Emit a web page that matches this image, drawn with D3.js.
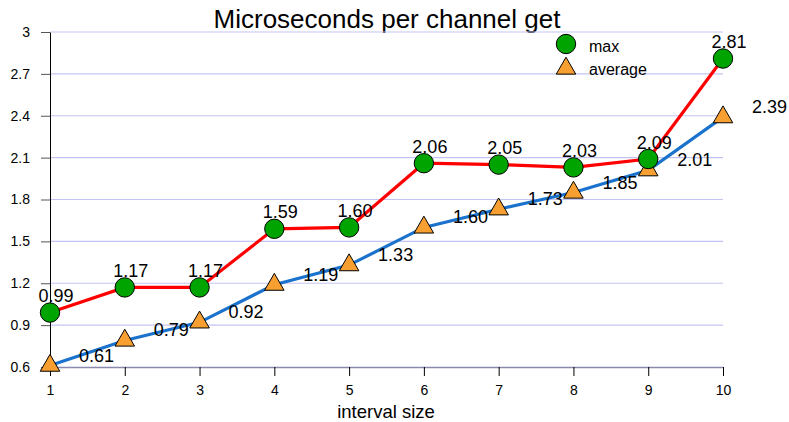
<!DOCTYPE html>
<html>
<head>
<meta charset="utf-8">
<script src="https://cdn.jsdelivr.net/npm/d3@7"></script>
<style>
  html, body { margin: 0; padding: 0; background: #fff; }
  svg { display: block; font-family: "Liberation Sans", Arial, sans-serif; }
</style>
</head>
<body>
<svg id="chart" width="789" height="422"></svg>
<script>
// Interval sizes along the x axis
const intervals = [1, 2, 3, 4, 5, 6, 7, 8, 9, 10];
// Microseconds per channel get
const maxValues = [0.99, 1.17, 1.17, 1.59, 1.60, 2.06, 2.05, 2.03, 2.09, 2.81];
const avgValues = [0.61, 0.79, 0.92, 1.19, 1.33, 1.60, 1.73, 1.85, 2.01, 2.39];
const yTicks = [0.6, 0.9, 1.2, 1.5, 1.8, 2.1, 2.4, 2.7, 3];
const seriesNames = ["max", "average"];

const FONT = "Liberation Sans, Arial, sans-serif";
const svg = d3.select("#chart");
const plotLeft = 50, plotRight = 723, plotTop = 32, plotBottom = 367;

const x = d3.scaleLinear().domain([1, 10]).range([plotLeft, plotRight]);
const y = d3.scaleLinear().domain([0.6, 3]).range([plotBottom, plotTop]);

// Title
svg.append("text")
  .attr("x", 387).attr("y", 28)
  .attr("text-anchor", "middle")
  .attr("font-size", 26)
  .text("Microseconds per channel get");

// Horizontal gridlines
svg.append("g").selectAll("line")
  .data(yTicks.slice(1))
  .join("line")
  .attr("x1", plotLeft).attr("x2", plotRight)
  .attr("y1", d => y(d)).attr("y2", d => y(d))
  .attr("stroke", "#c4c4f4").attr("stroke-width", 1.2);

// Y axis
const yAxis = svg.append("g")
  .attr("transform", `translate(${plotLeft},0)`)
  .call(d3.axisLeft(y).tickValues(yTicks).tickFormat(d3.format("")).tickSize(9).tickSizeOuter(0));
yAxis.select(".domain").attr("stroke", "#000");
yAxis.selectAll(".tick line").attr("stroke", "#555");
yAxis.selectAll(".tick text").attr("font-size", 14).attr("font-family", FONT).attr("x", -20).attr("fill", "#000");

// X axis
const xAxis = svg.append("g")
  .attr("transform", `translate(0,${plotBottom})`)
  .call(d3.axisBottom(x).tickValues(intervals).tickFormat(d3.format("d")).tickSize(9).tickSizeOuter(0));
xAxis.select(".domain").attr("stroke", "#8a8ab0").attr("stroke-width", 1.5);
xAxis.selectAll(".tick line").attr("stroke", "#000");
xAxis.selectAll(".tick text").attr("font-size", 14).attr("font-family", FONT).attr("y", 18).attr("fill", "#000");

// X axis title
svg.append("text")
  .attr("x", 386).attr("y", 418)
  .attr("text-anchor", "middle")
  .attr("font-size", 18.5)
  .text("interval size");

const line = vals => d3.line()
  .x((d, i) => x(intervals[i]))
  .y(d => y(d))(vals);

svg.append("path").attr("d", line(avgValues))
  .attr("fill", "none").attr("stroke", "#1a72cc").attr("stroke-width", 3.2);
svg.append("path").attr("d", line(maxValues))
  .attr("fill", "none").attr("stroke", "#ff0000").attr("stroke-width", 3.2);

// Value labels: average to the right, max above (drawn under the markers)
svg.append("g").selectAll("text")
  .data(avgValues)
  .join("text")
  .attr("x", (d, i) => x(intervals[i]) + 29)
  .attr("y", d => y(d) - 4)
  .attr("font-size", 18)
  .text(d => d.toFixed(2));

svg.append("g").selectAll("text")
  .data(maxValues)
  .join("text")
  .attr("x", (d, i) => x(intervals[i]) + 6)
  .attr("y", d => y(d) - 10.5)
  .attr("text-anchor", "middle")
  .attr("font-size", 18)
  .text(d => d.toFixed(2));

const tri = d3.symbol().type(d3.symbolTriangle).size(165);

// Average markers
svg.append("g").selectAll("path")
  .data(avgValues)
  .join("path")
  .attr("d", tri)
  .attr("transform", (d, i) => `translate(${x(intervals[i])},${y(d)})`)
  .attr("fill", "#f7a031").attr("stroke", "#000").attr("stroke-width", 1);

// Max markers
svg.append("g").selectAll("circle")
  .data(maxValues)
  .join("circle")
  .attr("cx", (d, i) => x(intervals[i]))
  .attr("cy", d => y(d))
  .attr("r", 9.7)
  .attr("fill", "#00a400").attr("stroke", "#000").attr("stroke-width", 1);

// Legend
const legend = svg.append("g");
legend.append("circle").attr("cx", 566).attr("cy", 44).attr("r", 9.7)
  .attr("fill", "#00a400").attr("stroke", "#000").attr("stroke-width", 1);
legend.append("path").attr("d", tri)
  .attr("transform", "translate(566,68.5)")
  .attr("fill", "#f7a031").attr("stroke", "#000").attr("stroke-width", 1);
legend.selectAll("text.lbl")
  .data(seriesNames)
  .join("text")
  .attr("class", "lbl")
  .attr("x", 589)
  .attr("y", (d, i) => 52 + i * 22.5)
  .attr("font-size", 16)
  .text(d => d);
</script>
</body>
</html>
